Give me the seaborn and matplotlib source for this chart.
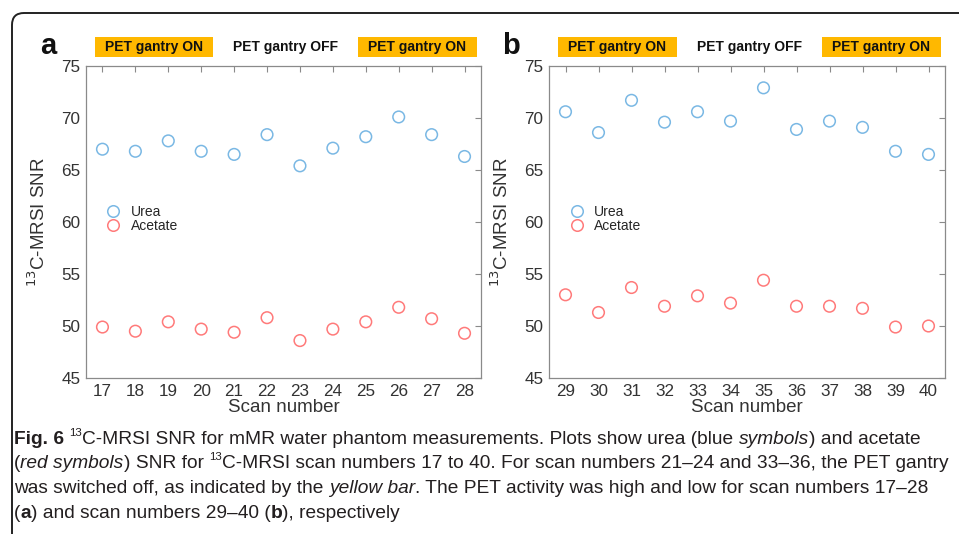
import numpy as np
import pandas as pd
import seaborn as sns
import matplotlib.pyplot as plt
import matplotlib.transforms as mtransforms
from matplotlib.patches import FancyBboxPatch, Rectangle
from matplotlib.lines import Line2D

# values
scan_a = [17, 18, 19, 20, 21, 22, 23, 24, 25, 26, 27, 28]
urea_a = [67.0, 66.8, 67.8, 66.8, 66.5, 68.4, 65.4, 67.1, 68.2, 70.1, 68.4, 66.3]
acetate_a = [49.9, 49.5, 50.4, 49.7, 49.4, 50.8, 48.6, 49.7, 50.4, 51.8, 50.7, 49.3]

scan_b = [29, 30, 31, 32, 33, 34, 35, 36, 37, 38, 39, 40]
urea_b = [70.6, 68.6, 71.7, 69.6, 70.6, 69.7, 72.9, 68.9, 69.7, 69.1, 66.8, 66.5]
acetate_b = [53.0, 51.3, 53.7, 51.9, 52.9, 52.2, 54.4, 51.9, 51.9, 51.7, 49.9, 50.0]

gantry_labels = ["PET gantry ON", "PET gantry OFF", "PET gantry ON"]
gantry_on = [True, False, True]
y_ticks = [45, 50, 55, 60, 65, 70, 75]

BLUE = "#7ab8e4"
RED = "#ff7a7a"
YELLOW = "#ffb800"
SPINE = "#8a8a8a"
TXT = "#333333"
CAP = "#231f20"

sns.set_style("white")
plt.rcParams["font.family"] = ["Liberation Sans", "DejaVu Sans"]

fig = plt.figure(figsize=(9.59, 5.34), dpi=100)
W, H = 959, 534


def px_axes(x0, y0, x1, y1):
    return fig.add_axes([x0 / W, 1 - y1 / H, (x1 - x0) / W, (y1 - y0) / H])


ax_a = px_axes(86, 66, 481, 378)
ax_b = px_axes(549, 66, 945, 378)

# frame around the figure (cut off at the right and bottom)
frame = FancyBboxPatch((12, -40), 1100, 534 - 13 + 40,
                       boxstyle="round,pad=0,rounding_size=12",
                       transform=mtransforms.IdentityTransform(),
                       fc="none", ec="#222222", lw=1.4)
fig.patches.append(frame)


def panel(ax, scans, urea, acetate, letter):
    df = pd.DataFrame({
        "scan": scans * 2,
        "snr": urea + acetate,
        "kind": ["Urea"] * len(urea) + ["Acetate"] * len(acetate),
    })
    sns.scatterplot(data=df, x="scan", y="snr", hue="kind",
                    palette={"Urea": BLUE, "Acetate": RED},
                    s=70, linewidth=1.1, legend=False, ax=ax)
    for coll in ax.collections:
        coll.set_edgecolors(coll.get_facecolors())
        coll.set_facecolor("none")

    ax.set_xlim(scans[0] - 0.5, scans[-1] + 0.5)
    ax.set_ylim(45, 75)
    ax.set_xticks(scans)
    ax.set_yticks(y_ticks)
    ax.tick_params(direction="in", length=4, width=0.8, color=SPINE,
                   labelsize=12.3, labelcolor=TXT, top=True, right=True,
                   labeltop=False, labelright=False, pad=4)
    for sp in ax.spines.values():
        sp.set_color(SPINE)
        sp.set_linewidth(0.9)
    ax.set_xlabel("Scan number", fontsize=13.5, color=TXT, labelpad=0)
    ax.set_ylabel("$^{13}$C-MRSI SNR", fontsize=13.5, color=TXT, labelpad=9)

    handles = [Line2D([], [], ls="", marker="o", ms=8.3, mfc="none",
                      mec=c, mew=1.1) for c in (BLUE, RED)]
    ax.legend(handles, ["Urea", "Acetate"], loc="upper left",
              bbox_to_anchor=(0.052, 0.555), frameon=False, fontsize=10,
              handlelength=1.0, handletextpad=0.75, labelspacing=0.0,
              borderpad=0, borderaxespad=0)

    # gantry status bars above the axes
    blend = mtransforms.blended_transform_factory(ax.transData, ax.transAxes)
    n = len(scans) // 3
    for i, (lab, on) in enumerate(zip(gantry_labels, gantry_on)):
        grp = scans[i * n:(i + 1) * n]
        xc = (grp[0] + grp[-1]) / 2 + 0.07
        if on:
            ax.add_patch(Rectangle((xc - 1.8, 1.028), 3.6, 0.064,
                                   transform=blend, fc=YELLOW, ec="none",
                                   clip_on=False))
        ax.text(xc, 1.06, lab, transform=blend, ha="center", va="center",
                fontsize=10, fontweight="bold", color="#111111")

    ax.text(-0.095, 1.065, letter, transform=ax.transAxes, fontsize=21,
            fontweight="bold", ha="center", va="center", color="#111111")


panel(ax_a, scan_a, urea_a, acetate_a, "a")
panel(ax_b, scan_b, urea_b, acetate_b, "b")

# caption with mixed styles, drawn run by run
cap_font = ["Liberation Sans", "DejaVu Sans"]
cap_size = 13.8
caption = [
    [("Fig. 6", "b"), (" ", "n"), ("13", "s"),
     ("C-MRSI SNR for mMR water phantom measurements. Plots show urea (blue ", "n"),
     ("symbols", "i"), (") and acetate", "n")],
    [("(", "n"), ("red symbols", "i"), (") SNR for ", "n"), ("13", "s"),
     ("C-MRSI scan numbers 17 to 40. For scan numbers 21\u201324 and 33\u201336, the PET gantry", "n")],
    [("was switched off, as indicated by the ", "n"), ("yellow bar", "i"),
     (". The PET activity was high and low for scan numbers 17\u201328", "n")],
    [("(", "n"), ("a", "b"), (") and scan numbers 29\u201340 (", "n"), ("b", "b"),
     ("), respectively", "n")],
]
baselines = [444, 468.5, 493, 517.5]

renderer = fig.canvas.get_renderer()
ident = mtransforms.IdentityTransform()
for line, yb in zip(caption, baselines):
    x = 14.0
    for txt, st in line:
        kw = dict(fontsize=cap_size, family=cap_font, color=CAP, va="baseline",
                  ha="left", transform=ident)
        y = H - yb
        if st == "b":
            kw["fontweight"] = "bold"
        elif st == "i":
            kw["fontstyle"] = "italic"
        elif st == "s":
            kw["fontsize"] = cap_size * 0.6
            y += cap_size * 0.6
        t = fig.text(x, y, txt, **kw)
        x += t.get_window_extent(renderer).width

fig.savefig("out.png", dpi=100)
